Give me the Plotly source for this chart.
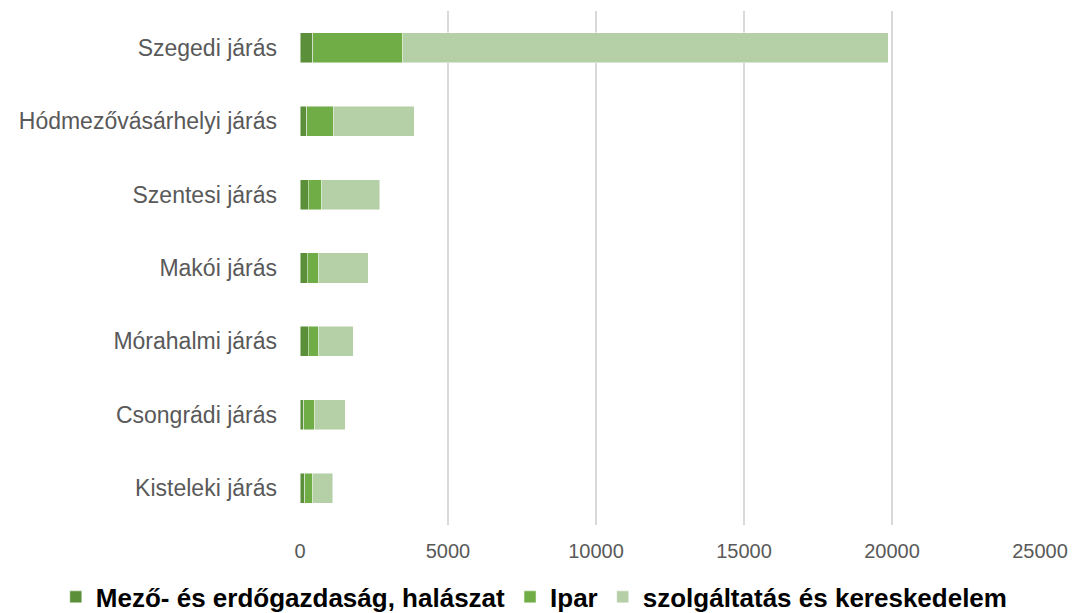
import plotly.graph_objects as go

jarasok = ["Szegedi járás", "Hódmezővásárhelyi járás", "Szentesi járás", "Makói járás",
           "Mórahalmi járás", "Csongrádi járás", "Kisteleki járás"]
mezo = [428, 227, 271, 237, 271, 124, 158]
ipar = [3048, 896, 462, 394, 360, 372, 270]
szolg = [16390, 2741, 1961, 1669, 1173, 1037, 677]

series = [
    ("Mező- és erdőgazdaság, halászat", mezo, "#5b8f3a"),
    ("Ipar", ipar, "#70ad47"),
    ("szolgáltatás és kereskedelem", szolg, "#b5cfa7"),
]

fig = go.Figure()
for name, vals, col in series:
    fig.add_trace(go.Bar(y=jarasok, x=vals, name=name, orientation="h",
                         marker=dict(color=col, line=dict(color="rgba(255,255,255,0.6)", width=0.8))))

fig.update_layout(
    barmode="stack",
    bargap=0.59,
    width=1073, height=613,
    margin=dict(l=300, r=33, t=11, b=88, autoexpand=False),
    paper_bgcolor="white", plot_bgcolor="white",
    font=dict(family="Liberation Sans, Arial, sans-serif", color="#595959"),
    showlegend=True,
    legend=dict(orientation="h", xref="paper", yref="paper",
                x=-0.33, xanchor="left", y=-0.140, yanchor="middle",
                font=dict(size=26, color="black", family="Liberation Sans, Arial, sans-serif", weight="bold"),
                itemwidth=30, traceorder="normal"),
)
fig.update_xaxes(range=[0, 25000], dtick=5000, tickformat="d", showgrid=True, gridcolor="#d9d9d9",
                 gridwidth=1.5, zeroline=False, showline=False, tickfont=dict(size=20, color="#595959"),
                 ticks="", ticklabelstandoff=12)
fig.update_yaxes(autorange="reversed", showgrid=False, showline=False, ticks="",
                 tickfont=dict(size=23, color="#595959"), ticklabelstandoff=22)

# page has a default 8px body margin which shifts the chart
fig.write_html("out.html", config={"displayModeBar": False},
               post_script="document.body.style.margin='0';")
